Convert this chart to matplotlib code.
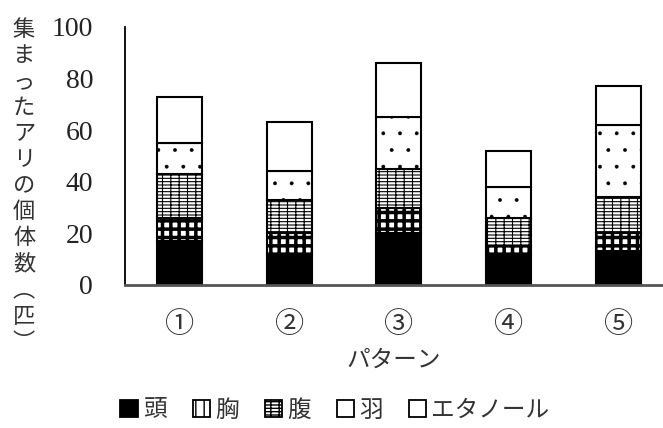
import numpy as np
import matplotlib
matplotlib.use("Agg")
import matplotlib.pyplot as plt
from matplotlib.patches import Patch

patterns = ["①", "②", "③", "④", "⑤"]
parts = ["頭", "胸", "腹", "羽", "エタノール"]
head = [17, 12, 20, 12, 13]
thorax = [9, 8, 10, 3, 7]
abdomen = [17, 13, 15, 11, 14]
wing = [12, 11, 20, 12, 28]
ethanol = [18, 19, 21, 14, 15]
yticks = [0, 20, 40, 60, 80, 100]
ylabel = "集まったアリの個体数︵匹︶"

jp = ["Noto Sans CJK JP", "DejaVu Sans"]
num_font = ["Liberation Serif", "DejaVu Serif"]
txt = "#333333"

plt.rcParams["hatch.linewidth"] = 1.0

fig = plt.figure(figsize=(6.63, 4.28), dpi=100)
ax = fig.add_axes([125 / 663, 143 / 428, 1 - 125 / 663, 258 / 428])

series = [head, thorax, abdomen, wing, ethanol]
fills = ["black", "white", "white", "white", "white"]
hatches = [None, "++", "||-----", ".", None]
hlw = [1.0, 2.5, 0.8, 0.3, 1.0]
# legend boxes: 羽 drawn plain, as in the original
leg_hatch = [None, "||", "||-----", None, None]

x = np.arange(len(patterns))
bottom = np.zeros(len(patterns))
handles = []
for vals, fc, h, lw, lh in zip(series, fills, hatches, hlw, leg_hatch):
    bars = ax.bar(x, vals, 0.41, bottom=bottom, color=fc, edgecolor="black",
                  linewidth=1.5, hatch=h)
    for b in bars:
        if hasattr(b, "set_hatch_linewidth"):
            b.set_hatch_linewidth(lw)
    p = Patch(facecolor=fc, edgecolor="black", linewidth=1.3, hatch=lh)
    if hasattr(p, "set_hatch_linewidth"):
        p.set_hatch_linewidth(lw)
    handles.append(p)
    bottom += np.array(vals)

ax.set_xlim(-0.5, 4.41)
ax.set_ylim(0, 100)
ax.set_yticks(yticks)
ax.set_yticklabels([str(v) for v in yticks], family=num_font, fontsize=20, color="#222222")
ax.set_xticks(x)
ax.set_xticklabels(patterns, family=jp, fontsize=21, color=txt)
ax.tick_params(axis="both", length=0)
ax.tick_params(axis="x", pad=18)
ax.tick_params(axis="y", pad=23)
for s in ["top", "right"]:
    ax.spines[s].set_visible(False)
ax.spines["left"].set_linewidth(1.3)
ax.spines["bottom"].set_linewidth(2)
ax.spines["bottom"].set_color("#555555")

ax.set_xlabel("パターン", family=jp, fontsize=17, color=txt, labelpad=6)

fig.text(24 / 663, 1 - 18 / 428, "\n".join(ylabel), family=jp, fontsize=16,
         color=txt, ha="center", va="top", linespacing=1.17)

leg = fig.legend(handles=handles, labels=parts, loc="center",
                 bbox_to_anchor=(0.505, 1 - 410 / 428), ncol=5, frameon=False,
                 prop={"family": jp, "size": 17}, handlelength=0.75,
                 handleheight=0.75, handletextpad=0.2, columnspacing=1.1)
for t in leg.get_texts():
    t.set_color(txt)

fig.savefig("out.png", dpi=100)
